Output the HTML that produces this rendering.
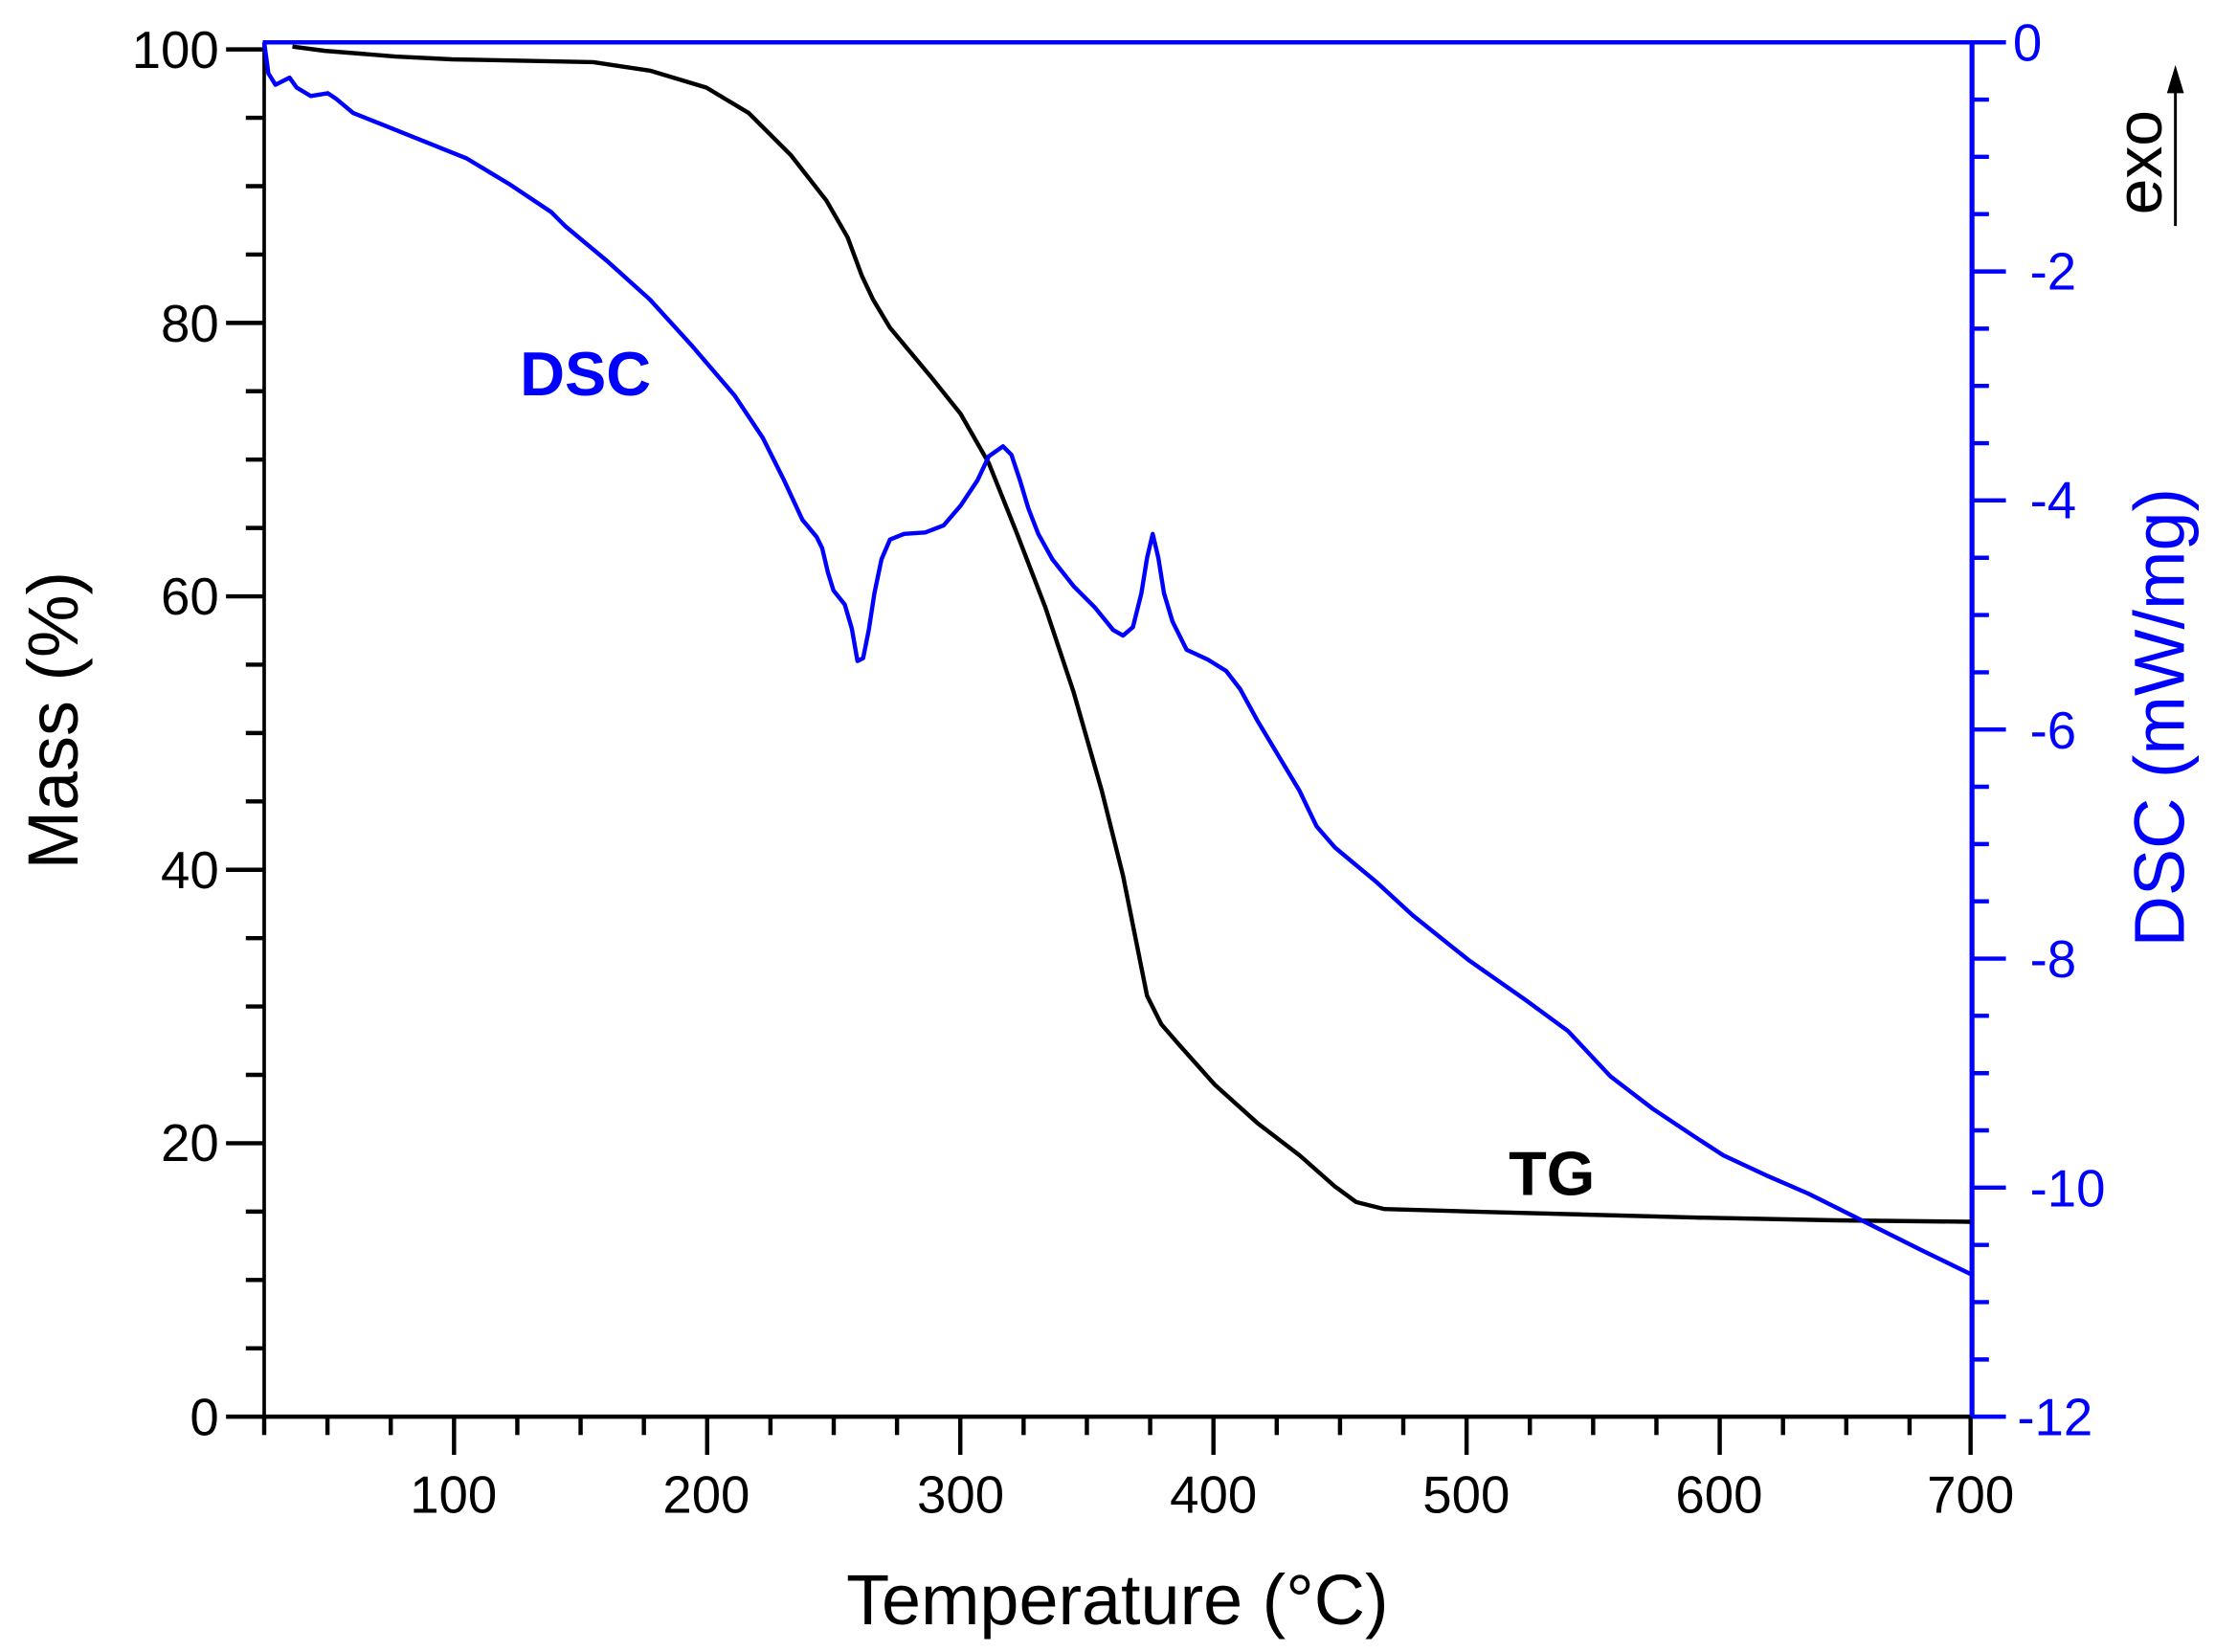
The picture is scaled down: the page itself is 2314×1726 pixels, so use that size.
<!DOCTYPE html>
<html><head><meta charset="utf-8"><style>
html,body{margin:0;padding:0;background:#fff;}
svg{display:block;}
text{font-family:"Liberation Sans",Arial,sans-serif;}
</style></head><body>
<svg width="2314" height="1726" viewBox="0 0 1568 1169.6" xmlns="http://www.w3.org/2000/svg">
<rect width="1568" height="1170" fill="#fff"/>
<!-- frame -->
<line x1="187" y1="1003" x2="1395" y2="1003" stroke="#000" stroke-width="3"/>
<line x1="187" y1="30" x2="187" y2="1004.5" stroke="#000" stroke-width="2.5"/>
<line x1="186" y1="30" x2="1420" y2="30" stroke="#00f" stroke-width="3"/>
<line x1="1396" y1="29" x2="1396" y2="1004" stroke="#00f" stroke-width="3.5"/>
<!-- x ticks -->
<g stroke="#000" stroke-width="3">
<line x1="187" y1="1003" x2="187" y2="1016"/>
<line x1="231.8" y1="1003" x2="231.8" y2="1016"/>
<line x1="276.6" y1="1003" x2="276.6" y2="1016"/>
<line x1="321.4" y1="1003" x2="321.4" y2="1030"/>
<line x1="366.2" y1="1003" x2="366.2" y2="1016"/>
<line x1="411" y1="1003" x2="411" y2="1016"/>
<line x1="455.8" y1="1003" x2="455.8" y2="1016"/>
<line x1="500.6" y1="1003" x2="500.6" y2="1030"/>
<line x1="545.4" y1="1003" x2="545.4" y2="1016"/>
<line x1="590.2" y1="1003" x2="590.2" y2="1016"/>
<line x1="635" y1="1003" x2="635" y2="1016"/>
<line x1="679.8" y1="1003" x2="679.8" y2="1030"/>
<line x1="724.6" y1="1003" x2="724.6" y2="1016"/>
<line x1="769.4" y1="1003" x2="769.4" y2="1016"/>
<line x1="814.2" y1="1003" x2="814.2" y2="1016"/>
<line x1="859" y1="1003" x2="859" y2="1030"/>
<line x1="903.8" y1="1003" x2="903.8" y2="1016"/>
<line x1="948.6" y1="1003" x2="948.6" y2="1016"/>
<line x1="993.4" y1="1003" x2="993.4" y2="1016"/>
<line x1="1038.2" y1="1003" x2="1038.2" y2="1030"/>
<line x1="1083" y1="1003" x2="1083" y2="1016"/>
<line x1="1127.8" y1="1003" x2="1127.8" y2="1016"/>
<line x1="1172.6" y1="1003" x2="1172.6" y2="1016"/>
<line x1="1217.4" y1="1003" x2="1217.4" y2="1030"/>
<line x1="1262.2" y1="1003" x2="1262.2" y2="1016"/>
<line x1="1307" y1="1003" x2="1307" y2="1016"/>
<line x1="1351.8" y1="1003" x2="1351.8" y2="1016"/>
<line x1="1395" y1="1003" x2="1395" y2="1030"/>
</g>
<g font-size="37" text-anchor="middle" fill="#000">
<text x="321" y="1071">100</text><text x="500" y="1071">200</text><text x="680" y="1071">300</text>
<text x="859" y="1071">400</text><text x="1038" y="1071">500</text><text x="1217" y="1071">600</text><text x="1395" y="1071">700</text>
</g>
<!-- left ticks -->
<g stroke="#000" stroke-width="3">
<line x1="160" y1="35" x2="187" y2="35"/><line x1="174" y1="131.8" x2="187" y2="131.8"/>
<line x1="160" y1="228.6" x2="187" y2="228.6"/><line x1="174" y1="325.4" x2="187" y2="325.4"/>
<line x1="160" y1="422.2" x2="187" y2="422.2"/><line x1="174" y1="519" x2="187" y2="519"/>
<line x1="160" y1="615.8" x2="187" y2="615.8"/><line x1="174" y1="712.6" x2="187" y2="712.6"/>
<line x1="160" y1="809.4" x2="187" y2="809.4"/><line x1="174" y1="906.2" x2="187" y2="906.2"/>
<line x1="160" y1="1003" x2="187" y2="1003"/>
<line x1="174" y1="83.4" x2="187" y2="83.4"/><line x1="174" y1="180.2" x2="187" y2="180.2"/>
<line x1="174" y1="277" x2="187" y2="277"/><line x1="174" y1="373.8" x2="187" y2="373.8"/>
<line x1="174" y1="470.6" x2="187" y2="470.6"/><line x1="174" y1="567.4" x2="187" y2="567.4"/>
<line x1="174" y1="664.2" x2="187" y2="664.2"/><line x1="174" y1="761" x2="187" y2="761"/>
<line x1="174" y1="857.8" x2="187" y2="857.8"/><line x1="174" y1="954.6" x2="187" y2="954.6"/>
</g>
<g font-size="37" text-anchor="end" fill="#000">
<text x="155" y="48">100</text><text x="155" y="242">80</text><text x="155" y="435">60</text>
<text x="155" y="629">40</text><text x="155" y="822">20</text><text x="155" y="1016">0</text>
</g>
<!-- right ticks -->
<g stroke="#00f" stroke-width="3">
<line x1="1396" y1="30" x2="1420" y2="30"/><line x1="1396" y1="70.5" x2="1408" y2="70.5"/>
<line x1="1396" y1="111" x2="1408" y2="111"/><line x1="1396" y1="151.6" x2="1408" y2="151.6"/>
<line x1="1396" y1="192.2" x2="1420" y2="192.2"/><line x1="1396" y1="232.7" x2="1408" y2="232.7"/>
<line x1="1396" y1="273.2" x2="1408" y2="273.2"/><line x1="1396" y1="313.8" x2="1408" y2="313.8"/>
<line x1="1396" y1="354.3" x2="1420" y2="354.3"/><line x1="1396" y1="394.9" x2="1408" y2="394.9"/>
<line x1="1396" y1="435.4" x2="1408" y2="435.4"/><line x1="1396" y1="476" x2="1408" y2="476"/>
<line x1="1396" y1="516.5" x2="1420" y2="516.5"/><line x1="1396" y1="557" x2="1408" y2="557"/>
<line x1="1396" y1="597.6" x2="1408" y2="597.6"/><line x1="1396" y1="638.1" x2="1408" y2="638.1"/>
<line x1="1396" y1="678.7" x2="1420" y2="678.7"/><line x1="1396" y1="719.2" x2="1408" y2="719.2"/>
<line x1="1396" y1="759.8" x2="1408" y2="759.8"/><line x1="1396" y1="800.3" x2="1408" y2="800.3"/>
<line x1="1396" y1="840.8" x2="1420" y2="840.8"/><line x1="1396" y1="881.4" x2="1408" y2="881.4"/>
<line x1="1396" y1="921.9" x2="1408" y2="921.9"/><line x1="1396" y1="962.5" x2="1408" y2="962.5"/>
<line x1="1396" y1="1003" x2="1420" y2="1003"/>
</g>
<g font-size="37" text-anchor="start" fill="#00f">
<text x="1425" y="43">0</text><text x="1437" y="205">-2</text><text x="1437" y="367">-4</text>
<text x="1437" y="530">-6</text><text x="1437" y="692">-8</text><text x="1437" y="854">-10</text><text x="1428" y="1016">-12</text>
</g>
<!-- titles -->
<text x="791" y="1150" font-size="50" text-anchor="middle" fill="#000">Temperature (°C)</text>
<text transform="translate(55,510) rotate(-90)" font-size="50" text-anchor="middle" fill="#000">Mass (%)</text>
<text transform="translate(1546,508) rotate(-90)" font-size="50" text-anchor="middle" fill="#00f">DSC (mW/mg)</text>
<text transform="translate(1530,115) rotate(-90)" font-size="46" text-anchor="middle" fill="#000">exo</text>
<line x1="1540" y1="160" x2="1540" y2="60" stroke="#000" stroke-width="2"/>
<polygon points="1540,46 1534,66 1546,66" fill="#000"/>
<text x="368" y="280" font-size="44" font-weight="bold" fill="#00f">DSC</text>
<text x="1068" y="846" font-size="44" font-weight="bold" fill="#000">TG</text>
<!-- curves -->
<polyline fill="none" stroke="#000" stroke-width="3" stroke-linejoin="round" points="207,33 230,36 280,40 320,42 420,44 460,50 500,62 530,80 560,110 585,142 600,168 610,195 618,212 630,232 645,250 660,268 680,293 700,328 720,378 740,430 760,490 780,560 795,620 805,670 812,705 822,725 835,740 860,768 890,795 920,818 945,840 960,851 980,856 1050,858 1200,862 1300,864 1395,865"/>
<polyline fill="none" stroke="#00f" stroke-width="3" stroke-linejoin="round" points="187,30 190,52 195,60 205,55 210,62 220,68 232,66 238,70 250,80 270,88 300,100 330,112 360,130 390,150 400,160 430,185 460,212 490,245 520,280 540,310 555,340 568,368 578,380 582,388 586,405 590,418 598,428 603,445 607,468 611,466 615,446 619,420 624,396 630,382 640,378 655,377 668,372 680,358 692,340 700,323 710,316 716,322 722,340 728,360 735,378 745,396 760,415 775,430 788,446 795,450 802,444 808,420 812,395 816,378 820,395 824,420 830,440 840,460 855,467 868,475 878,488 890,510 905,535 920,560 932,585 945,600 975,625 1000,648 1040,680 1080,708 1110,730 1140,762 1170,785 1200,805 1220,818 1250,832 1280,845 1320,865 1360,885 1395,902"/>
</svg>
</body></html>
